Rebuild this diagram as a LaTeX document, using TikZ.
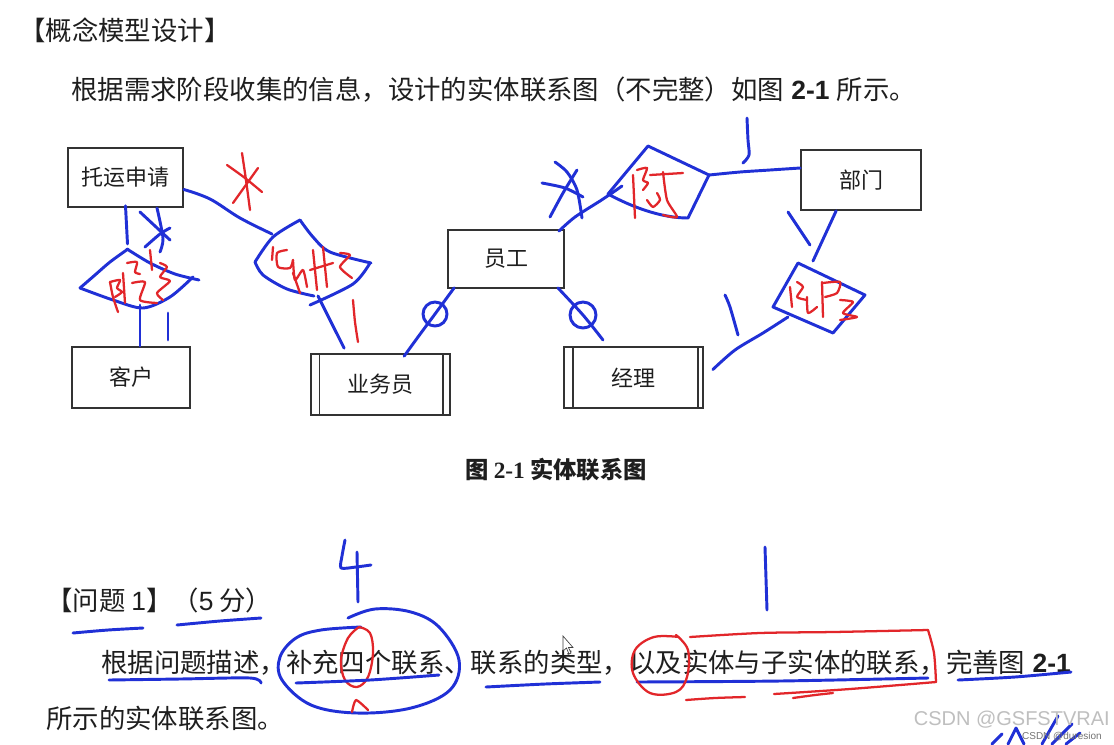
\documentclass[tikz,border=0pt]{standalone}
\usepackage{fontspec}
\setmainfont{Noto Sans CJK SC}
\newfontfamily\lsans{Liberation Sans}
\newfontfamily\lserif{Liberation Serif}
\usetikzlibrary{calc}
\definecolor{penblue}{RGB}{32,48,214}
\definecolor{penred}{RGB}{226,38,42}
\definecolor{ink}{RGB}{30,30,30}
\tikzset{
  ent/.style={draw=black!80, line width=1.3pt, inner sep=0pt, text=ink,
    font=\fontsize{16.5}{18}\selectfont},
  entline/.style={draw=black!80, line width=1.3pt},
  txt/.style={inner sep=0pt, text=ink, font=\fontsize{19.8}{24}\selectfont},
  bl/.style={draw=penblue, line width=2.2pt, line cap=round, line join=round},
  rd/.style={draw=penred, line width=1.7pt, line cap=round, line join=round},
}
\begin{document}
\begin{tikzpicture}[x=0.75pt,y=-0.75pt]
\useasboundingbox (0,0) rectangle (1114,744);
\fill[white] (0,0) rectangle (1114,744);

% ---------- printed text ----------
\node[txt, anchor=west] (title) at (19,30) {【概念模型设计】};
\node[txt, anchor=west] (intro) at (71,90) {根据需求阶段收集的信息，设计的实体联系图（不完整）如图{\lsans\bfseries\ 2-1\ }所示。};

% ---------- entities ----------
\node[ent, minimum width=86.25pt, minimum height=44.25pt] (tysq) at (125.5,177.5) {托运申请};
\node[ent, minimum width=88.5pt, minimum height=45.75pt] (kh) at (131,377.5) {客户};
\node[ent, minimum width=104.25pt, minimum height=45.75pt] (ywy) at (380.5,384.5) {业务员};
\node[ent, minimum width=87pt, minimum height=43.5pt] (yg) at (506,259) {员工};
\node[ent, minimum width=104.25pt, minimum height=45.75pt] (jl) at (633.5,377.5) {经理};
\node[ent, minimum width=90pt, minimum height=45pt] (bm) at (861,180) {部门};
\draw[entline] ([xshift=7pt]ywy.north west) -- ([xshift=7pt]ywy.south west);
\draw[entline] ([xshift=-6pt]ywy.north east) -- ([xshift=-6pt]ywy.south east);
\draw[entline] ([xshift=7.5pt]jl.north west) -- ([xshift=7.5pt]jl.south west);
\draw[entline] ([xshift=-4.5pt]jl.north east) -- ([xshift=-4.5pt]jl.south east);

\node[inner sep=0pt, text=ink, font=\fontsize{17.5}{20}\selectfont\bfseries] (cap) at (556,470) {图 {\lserif\bfseries 2-1} 实体联系图};

% ---------- question text ----------
\node[txt, anchor=west] (q1) at (46,600) {【问题 {\lsans 1}】（{\lsans 5} 分）};
\node[txt, anchor=west] (q1a) at (101,663) {根据问题描述，补充四个联系、联系的类型，以及实体与子实体的联系，完善图{\lsans\bfseries\ 2-1}};
\node[txt, anchor=west] (q1b) at (46,718) {所示的实体联系图。};

% ---------- handwritten: relationship 1 (托运申请 - 客户) ----------
\coordinate (a0) at ($(tysq.south)+(0,-2)$);
\coordinate (d1b) at (140,305);
\draw[bl] (a0) -- ++(2,38);
\draw[bl] plot[smooth,tension=.5] coordinates {(127,249)(150,263)(175,274)(199,280)};
\draw[bl] plot[smooth,tension=.5] coordinates {(128,249)(110,262)(95,275)(80,288)};
\draw[bl] plot[smooth,tension=.5] coordinates {(80,288)(113,300)(143,308)(170,297)(193,277)};
\draw[bl] (d1b) -- (d1b |- kh.north);
\draw[bl] (168,313) -- (168,340);
% blue asterisk
\draw[bl] plot[smooth] coordinates {(140,212)(155,226)(170,240)};
\draw[bl] plot[smooth] coordinates {(157,208)(163,238)(160,252)};
\draw[bl] plot[smooth] coordinates {(145,247)(160,234)(170,228)};
% red scribble
\draw[rd] plot[smooth] coordinates {(110,282)(113,297)(118,312)};
\draw[rd] plot[smooth,tension=.4] coordinates {(110,282)(120,280)(117,288)(122,292)(115,297)};
\draw[rd] plot[smooth] coordinates {(123,273)(124,288)(125,303)};
\draw[rd] plot[smooth,tension=.4] coordinates {(127,263)(137,262)(135,272)(140,274)};
\draw[rd] plot[smooth,tension=.4] coordinates {(132,283)(145,282)(140,300)(157,303)};
\draw[rd] (150,250) -- (152,270);
\draw[rd] plot[smooth,tension=.4] coordinates {(160,263)(167,267)(160,277)(170,281)(157,293)(163,300)};

% ---------- handwritten: relationship 2 (托运申请 - 业务员) ----------
\coordinate (a1) at ($(tysq.east)+(0,12)$);
\draw[bl] plot[smooth,tension=.6] coordinates {(a1)(210,199)(240,218)(272,234)};
\draw[bl] plot[smooth,tension=.5] coordinates {(300,220)(273,237)(255,262)};
\draw[bl] plot[smooth,tension=.5] coordinates {(300,220)(313,237)(330,252)(371,263)};
\draw[bl] plot[smooth,tension=.5] coordinates {(255,262)(263,275)(287,289)(314,296)};
\draw[bl] plot[smooth,tension=.5] coordinates {(370,263)(353,284)(310,305)};
\coordinate (a2) at ($(ywy.north west)+(34,-5)$);
\draw[bl] plot[smooth,tension=.5] coordinates {(318,296)(333,326)(a2)};
\draw[rd] plot[smooth] coordinates {(353,300)(355,322)(358,342)};
% red asterisk
\draw[rd] plot[smooth] coordinates {(227,165)(245,178)(262,192)};
\draw[rd] plot[smooth] coordinates {(242,153)(246,180)(250,210)};
\draw[rd] (233,203) -- (258,168);
% red scribble
\draw[rd] (273,247) -- (272,260);
\draw[rd] plot[smooth,tension=.4] coordinates {(287,250)(277,253)(278,267)(290,268)(293,260)};
\draw[rd] plot[smooth,tension=.4] coordinates {(293,260)(295,280)(303,270)(307,287)};
\draw[rd] (293,273) -- (300,293);
\draw[rd] (313,250) -- (317,290);
\draw[rd] (323,247) -- (327,287);
\draw[rd] (310,270) -- (333,263);
\draw[rd] plot[smooth,tension=.4] coordinates {(340,253)(350,255)(340,267)(352,278)};

% ---------- handwritten: 业务员 - 员工, 经理 - 员工 ----------
\coordinate (a3) at ($(ywy.north west)+(94,3)$);
\coordinate (a4) at ($(yg.south west)+(7,-1)$);
\draw[bl] plot[smooth,tension=.5] coordinates {(a3)(418,337)(435,314)(a4)};
\draw[bl] (435,314) circle[radius=12];
\coordinate (a5) at ($(yg.south east)+(-7,-1)$);
\draw[bl] plot[smooth,tension=.5] coordinates {(a5)(583,315)(603,340)};
\draw[bl] (583,315) circle[radius=13];

% ---------- handwritten: relationship 3 (员工 - 部门) ----------
\coordinate (a6) at ($(yg.north east)+(-6,2)$);
\draw[bl] plot[smooth,tension=.5] coordinates {(a6)(575,217)(600,201)(612,193)(622,186)};
\draw[bl] (648,146) -- (709,175) -- (688,218) .. controls (660,218) and (630,206) .. (608,194) -- cycle;
\coordinate (a7) at ($(bm.west)+(0,-12)$);
\draw[bl] plot[smooth,tension=.5] coordinates {(709,175)(740,172)(770,170)(a7)};
\draw[bl] plot[smooth,tension=.5] coordinates {(747,118)(748,140)(749,155)(743,163)};
% blue asterisk
\draw[bl] plot[smooth] coordinates {(542,183)(565,188)(583,197)};
\draw[bl] plot[smooth] coordinates {(555,162)(567,172)(577,190)(582,218)};
\draw[bl] plot[smooth] coordinates {(550,217)(563,193)(577,170)};
% red scribble
\draw[rd] (633,175) -- (635,218);
\draw[rd] plot[smooth,tension=.4] coordinates {(637,170)(647,168)(643,180)(648,183)(643,190)};
\draw[rd] (650,175) -- (683,173);
\draw[rd] plot[smooth,tension=.4] coordinates {(663,172)(667,200)(677,217)(663,215)};
\draw[rd] plot[smooth,tension=.4] coordinates {(657,193)(660,200)(653,207)(647,200)};

% ---------- handwritten: relationship 4 (部门 - 经理) ----------
\coordinate (a8) at ($(bm.south west)+(36,0)$);
\draw[bl] (a8) -- (813,261);
\draw[bl] (788,212) -- (810,245);
\draw[bl] (798,263) -- (865,295) -- (833,333) -- (773,307) -- cycle;
\coordinate (a9) at ($(jl.east)+(9,-8)$);
\draw[bl] plot[smooth,tension=.5] coordinates {(788,317)(763,333)(735,350)(a9)};
\draw[bl] plot[smooth,tension=.5] coordinates {(725,295)(730,307)(738,335)};
% red scribble
\draw[rd] (790,287) -- (792,307);
\draw[rd] plot[smooth,tension=.4] coordinates {(797,282)(803,287)(797,297)(807,300)};
\draw[rd] plot[smooth,tension=.4] coordinates {(807,297)(808,313)(817,307)};
\draw[rd] (822,282) -- (823,317);
\draw[rd] plot[smooth,tension=.4] coordinates {(823,283)(840,282)(837,293)(825,297)};
\draw[rd] plot[smooth,tension=.4] coordinates {(840,300)(853,302)(843,313)(857,317)(840,320)};

% ---------- handwritten marks on the question ----------
\draw[bl] plot[smooth,tension=.4] coordinates {(345,540)(342,556)(341,568)(356,567)(371,565)};
\draw[bl] (357,552) -- (358,602);
\draw[bl] plot[smooth,tension=.6] coordinates {(348,618)(375,609)(411,612)(439,627)(459,660)(450,690)(411,708)(357,713)(311,705)(282,680)(280,657)(296,638)(321,630)(361,627)};
\draw[rd] plot[smooth,tension=.6] coordinates {(359,627)(348,638)(341,660)(345,680)(357,687)(368,677)(373,653)(370,633)(359,627)};
\draw[rd] plot[smooth,tension=.4] coordinates {(352,712)(356,700)(368,710)};
\draw[bl] plot[smooth] coordinates {(73,633)(108,630)(143,628)};
\draw[bl] plot[smooth] coordinates {(177,625)(220,621)(261,618)};
\draw[bl] plot[smooth,tension=.5] coordinates {(109,680)(180,679)(250,678)(261,683)};
\draw[bl] plot[smooth] coordinates {(296,683)(370,680)(439,675)};
\draw[bl] plot[smooth] coordinates {(486,687)(545,684)(600,682)};
\draw[bl] (765,547) -- (767,610);
\draw[bl] plot[smooth] coordinates {(637,682)(780,681)(928,678)};
\draw[bl] plot[smooth] coordinates {(958,680)(1015,677)(1071,672)};
\draw[rd] plot[smooth,tension=.6] coordinates {(679,637)(654,637)(635,650)(633,673)(650,693)(676,692)(687,677)(688,650)(676,635)};
\draw[rd] plot[smooth] coordinates {(690,637)(760,633)(833,632)(928,630)};
\draw[rd] plot[smooth] coordinates {(928,630)(934,653)(936,682)};
\draw[rd] plot[smooth] coordinates {(936,682)(850,689)(774,694)};
\draw[rd] plot[smooth] coordinates {(686,700)(715,698)(745,697)};
\draw[rd] plot[smooth] coordinates {(793,698)(815,695)(833,693)};
% strokes at lower right corner
\draw[bl] (992,744) -- (1002,734);
\draw[bl] (1008,744) -- (1016,728) -- (1024,744);
\draw[bl] (1042,744) -- (1058,716);
\draw[bl] (1052,744) -- (1072,724);
\draw[bl] (1066,744) -- (1080,733);
% mouse pointer
\draw[black!75, fill=white, line width=0.5pt] (563,636) -- (563,651) -- (566.5,648) -- (569,654) -- (571,653) -- (568.5,647.5) -- (573,647.5) -- cycle;

% ---------- watermark ----------
\node[anchor=east, inner sep=0pt, text=black!25, font=\lsans\fontsize{15}{15}\selectfont] (wm) at (1110,720) {CSDN @GSFSTVRAI};
\node[anchor=east, inner sep=0pt, text=black!55, font=\lsans\fontsize{7.5}{7.5}\selectfont] (wm2) at (1102,737) {CSDN @duresion};
\end{tikzpicture}
\end{document}
